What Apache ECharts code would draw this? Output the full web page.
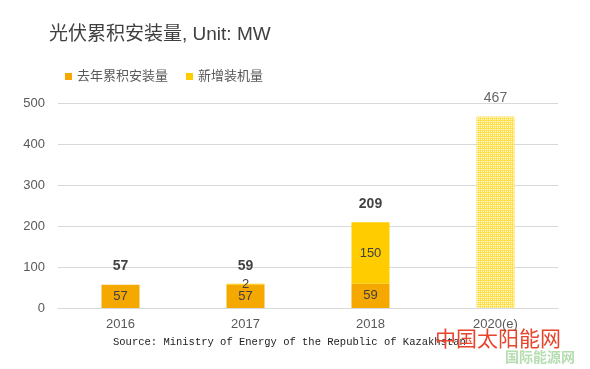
<!DOCTYPE html>
<html><head><meta charset="utf-8">
<script src="https://cdn.jsdelivr.net/npm/echarts@6/dist/echarts.min.js"></script>
<style>html,body{margin:0;padding:0;background:#fff}#c{width:590px;height:369px}</style>
</head><body><div id="c"></div>
<script>
const categories = ['2016', '2017', '2018', '2020(e)'];
const baseValues = [57, 57, 59, null];
const addedValues = [0, 2, 150, null];
const estimateValues = [null, null, null, 467];
const totalValues = [57, 59, 209, 467];
const yTicks = [0, 100, 200, 300, 400, 500];

const FONT = '"Liberation Sans", "Noto Sans CJK SC", sans-serif';
const pc = document.createElement('canvas');
pc.width = 4; pc.height = 4;
const g = pc.getContext('2d');
g.fillStyle = '#FFE04A'; g.fillRect(0, 0, 4, 4);
g.fillStyle = '#FFF8D8';
g.fillRect(1, 1, 1, 1); g.fillRect(3, 3, 1, 1); g.fillRect(3, 1, 1, 1); g.fillRect(1, 3, 1, 1);
g.fillStyle = '#FFEB8A';
g.fillRect(2, 1, 1, 1); g.fillRect(1, 2, 1, 1);

const chart = echarts.init(document.getElementById('c'));
chart.setOption({
  animation: false,
  textStyle: { fontFamily: FONT },
  title: {
    text: '光伏累积安装量, Unit: MW', left: 44, top: 20,
    textStyle: { fontSize: 19, fontWeight: 'normal', color: '#404040', fontFamily: FONT }
  },
  legend: {
    data: ['去年累积安装量', '新增装机量'], left: 60, top: 65,
    icon: 'rect', itemWidth: 7, itemHeight: 7, itemGap: 18,
    textStyle: { fontSize: 13, color: '#595959', fontFamily: FONT }
  },
  grid: { left: 58, right: 32, top: 103, bottom: 61 },
  xAxis: {
    type: 'category', data: categories,
    axisLine: { lineStyle: { color: '#d9d9d9' } }, axisTick: { show: false },
    axisLabel: { color: '#595959', fontSize: 13, margin: 10 }
  },
  yAxis: {
    type: 'value', min: yTicks[0], max: yTicks[yTicks.length - 1], interval: 100,
    axisLine: { show: false }, axisTick: { show: false },
    axisLabel: { color: '#595959', fontSize: 13, margin: 13 },
    splitLine: { lineStyle: { color: '#d9d9d9' } }
  },
  series: [
    { name: '去年累积安装量', type: 'bar', stack: 's', barWidth: 38, data: baseValues,
      itemStyle: { color: '#F5A800' },
      label: { show: true, position: 'inside', color: '#404040', fontSize: 13 } },
    { name: '新增装机量', type: 'bar', stack: 's', barWidth: 38, data: addedValues,
      itemStyle: { color: '#FFCC00' },
      label: { show: true, position: 'inside', color: '#404040', fontSize: 13,
        formatter: p => p.value ? String(p.value) : '' } },
    { name: '预计', type: 'bar', stack: 's', barWidth: 38, data: estimateValues,
      itemStyle: { color: { image: pc, repeat: 'repeat' } } },
    { name: '总计', type: 'scatter', symbol: 'circle', symbolSize: 2, data: totalValues.map((v, i) => ({
        value: v,
        label: i === 3 ? { color: '#404040', fontWeight: 'normal' } : {}
      })),
      itemStyle: { color: 'rgba(0,0,0,0)' }, silent: true, z: 10,
      label: { show: true, position: 'top', distance: 10, color: '#111', fontSize: 14, fontWeight: 'bold' } }
  ],
  graphic: [
    { type: 'text', left: 113, top: 337, style: { text: 'Source: Ministry of Energy of the Republic of Kazakhstan',
      font: '10.5px "Liberation Mono", monospace', fill: '#222' } },
    { type: 'text', left: 435, top: 328, style: { text: '中国太阳能网',
      font: '21px "Noto Sans CJK SC"', fill: '#E8452C' } },
    { type: 'text', left: 505, top: 350, style: { text: '国际能源网',
      font: 'bold 14px "Noto Sans CJK SC"', fill: '#B5DDB0' } }
  ]
});
</script></body></html>
